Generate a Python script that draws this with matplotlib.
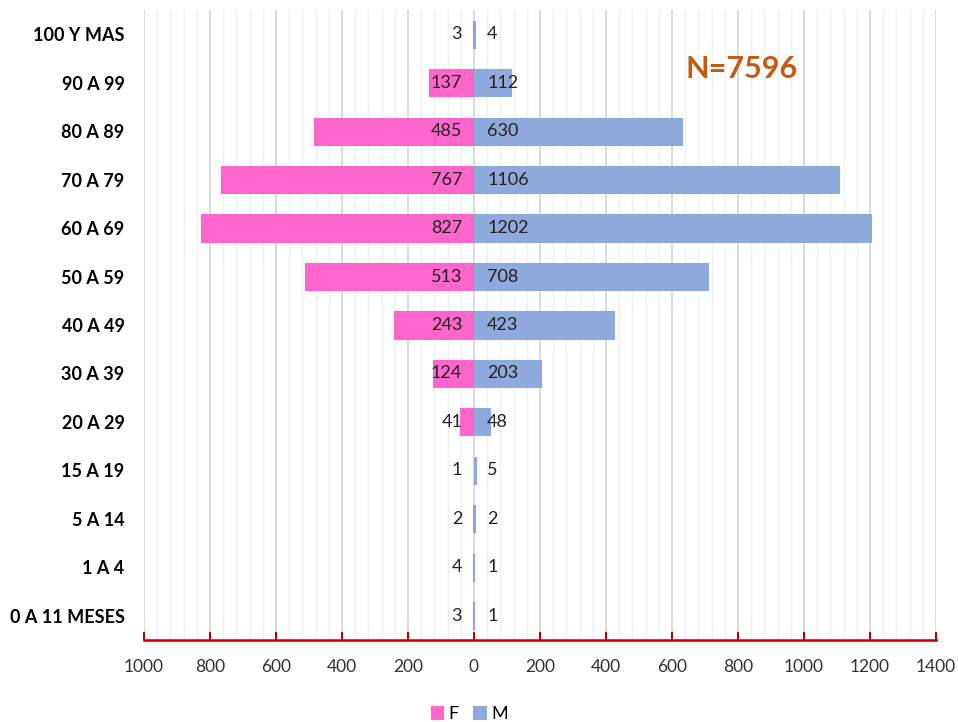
import numpy as np
import matplotlib
matplotlib.use("Agg")
import matplotlib.pyplot as plt
from matplotlib.ticker import FixedLocator, FuncFormatter

plt.rcParams['font.family'] = ['Lato', 'DejaVu Sans']

# data, top to bottom
age_groups = ["100 Y MAS", "90 A 99", "80 A 89", "70 A 79", "60 A 69", "50 A 59",
              "40 A 49", "30 A 39", "20 A 29", "15 A 19", "5 A 14", "1 A 4", "0 A 11 MESES"]
females = [3, 137, 485, 767, 827, 513, 243, 124, 41, 1, 2, 4, 3]
males = [4, 112, 630, 1106, 1202, 708, 423, 203, 48, 5, 2, 1, 1]
total_label = "N=7596"

F_COLOR = "#FF66CC"
M_COLOR = "#8EA9DB"

fig = plt.figure(figsize=(9.58, 7.22), dpi=100)
ax = fig.add_axes([0.1503, 0.1136, 0.8267, 0.8726])

y = np.arange(len(age_groups))
ax.barh(y, [-v for v in females], height=0.56, color=F_COLOR, edgecolor=F_COLOR,
        linewidth=0.8, label="F", zorder=3)
ax.barh(y, males, height=0.56, color=M_COLOR, edgecolor=M_COLOR,
        linewidth=0.8, label="M", zorder=3)

# data labels at a fixed offset from zero
for yi, f, m in zip(y, females, males):
    ax.annotate(str(f), (0, yi), xytext=(-8.5, 0), textcoords="offset points",
                ha="right", va="center", fontsize=13, color="#222222", zorder=4)
    ax.annotate(str(m), (0, yi), xytext=(9.5, 0), textcoords="offset points",
                ha="left", va="center", fontsize=13, color="#222222", zorder=4)

ax.set_xlim(-1000, 1400)
ax.set_ylim(len(age_groups) - 0.5, -0.5)

ax.xaxis.set_major_locator(FixedLocator(np.arange(-1000, 1401, 200)))
ax.xaxis.set_minor_locator(FixedLocator(np.arange(-1000, 1401, 40)))
ax.xaxis.set_major_formatter(FuncFormatter(lambda v, p: f"{abs(int(v))}"))
ax.grid(which="major", axis="x", color="#D9D9D9", linewidth=1.3, zorder=0)
ax.grid(which="minor", axis="x", color="#F0F0F0", linewidth=1.0, zorder=0)

ax.set_yticks(y)
ax.set_yticklabels(age_groups, fontsize=13, fontweight="bold")
ax.tick_params(axis="y", length=0, pad=14)
ax.tick_params(axis="x", which="major", direction="in", length=6, width=1.5,
               color="#C00000", labelsize=12.5, labelcolor="#333333", pad=14)
ax.tick_params(axis="x", which="minor", length=0)

for s in ["top", "right", "left"]:
    ax.spines[s].set_visible(False)
ax.spines["bottom"].set_color("#C00000")
ax.spines["bottom"].set_linewidth(1.8)

ax.text(810, 0.72, total_label, ha="center", va="center", fontsize=22,
        fontweight="bold", color="#C55A11", zorder=5)

fig.legend(loc="lower center", bbox_to_anchor=(0.49, -0.022), ncol=2, frameon=False,
           fontsize=13, handlelength=0.7, handleheight=0.7, handletextpad=0.3,
           columnspacing=0.8)

fig.savefig("out.png", dpi=100)
